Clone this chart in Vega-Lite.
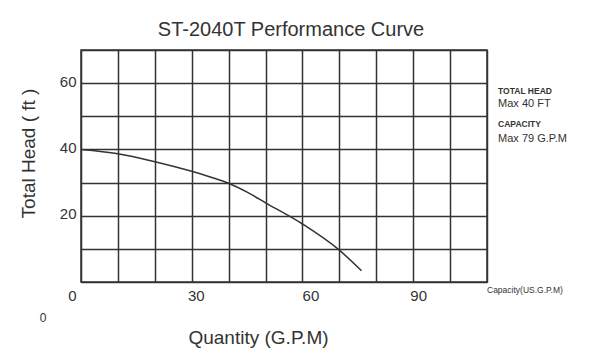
{
  "$schema": "https://vega.github.io/schema/vega-lite/v6.json",
  "width": 406,
  "height": 232,
  "autosize": {"type": "none"},
  "padding": {"left": 81, "top": 50, "right": 103, "bottom": 73},
  "background": "white",
  "config": {
    "font": "Liberation Sans",
    "view": {"stroke": "#333333", "strokeWidth": 1.5}
  },
  "title": {
    "text": "ST-2040T Performance Curve",
    "fontSize": 20,
    "fontWeight": "normal",
    "color": "#333333",
    "anchor": "middle",
    "dx": 7,
    "offset": 12,
    "dy": 11
  },
  "datasets": {
    "curve": [
      {"gpm": 0, "head": 40},
      {"gpm": 10, "head": 38.7},
      {"gpm": 20, "head": 36.3},
      {"gpm": 30, "head": 33.4},
      {"gpm": 35, "head": 31.7},
      {"gpm": 40, "head": 29.8},
      {"gpm": 45, "head": 27.1},
      {"gpm": 50, "head": 23.9},
      {"gpm": 60, "head": 17.5},
      {"gpm": 70, "head": 9.6},
      {"gpm": 76, "head": 3.4}
    ],
    "notes": [
      {"gpm": 113, "head": 57.6, "label": "TOTAL HEAD", "kind": "heading"},
      {"gpm": 113, "head": 47.7, "label": "CAPACITY", "kind": "heading"},
      {"gpm": 113, "head": 53.7, "label": "Max 40 FT", "kind": "value"},
      {"gpm": 113, "head": 43.1, "label": "Max 79 G.P.M", "kind": "value"},
      {"gpm": 110, "head": -2.4, "label": "Capacity(US.G.P.M)", "kind": "unit"},
      {"gpm": -10.3, "head": -10.9, "label": "0", "kind": "stray"}
    ]
  },
  "layer": [
    {
      "data": {"name": "curve"},
      "mark": {"type": "line", "interpolate": "monotone", "color": "#333333", "strokeWidth": 1.5},
      "encoding": {
        "x": {
          "field": "gpm",
          "type": "quantitative",
          "scale": {"domain": [0, 110], "nice": false, "zero": false},
          "axis": {
            "title": "Quantity (G.P.M)",
            "titleFontSize": 19,
            "titleFontWeight": "normal",
            "titleColor": "#333333",
            "titleX": 177,
            "titleY": 55,
            "titleBaseline": "middle",
            "titleAlign": "center",
            "values": [0, 10, 20, 30, 40, 50, 60, 70, 80, 90, 100, 110],
            "tickCount": 30,
            "labelExpr": "(datum.value % 30 == 0 && datum.value <= 90) ? datum.label : ''",
            "labelFontSize": 15,
            "labelColor": "#333333",
            "labelPadding": 6,
            "labelFlush": false,
            "labelOverlap": false,
            "labelOffset": {"expr": "datum.value == 0 ? -9 : datum.value == 30 ? 4 : datum.value == 60 ? 8 : 5"},
            "ticks": false,
            "domain": false,
            "grid": true,
            "gridColor": "#333333",
            "gridOpacity": 1,
            "gridWidth": 1.5
          }
        },
        "y": {
          "field": "head",
          "type": "quantitative",
          "scale": {"domain": [0, 70], "nice": false, "zero": false},
          "axis": {
            "title": "Total Head ( ft )",
            "titleFontSize": 19,
            "titleFontWeight": "normal",
            "titleColor": "#333333",
            "titleX": -53,
            "titleY": 103,
            "titleAngle": -90,
            "titleBaseline": "middle",
            "titleAlign": "center",
            "values": [0, 10, 20, 30, 40, 50, 60, 70],
            "tickCount": 30,
            "labelExpr": "(datum.value == 20 || datum.value == 40 || datum.value == 60) ? datum.label : ''",
            "labelFontSize": 15,
            "labelColor": "#333333",
            "labelPadding": 5,
            "labelFlush": false,
            "labelOverlap": false,
            "labelOffset": -2,
            "ticks": false,
            "domain": false,
            "grid": true,
            "gridColor": "#333333",
            "gridOpacity": 1,
            "gridWidth": 1.5
          }
        }
      }
    },
    {
      "data": {"name": "notes"},
      "transform": [{"filter": "datum.kind == 'heading'"}],
      "mark": {"type": "text", "align": "left", "baseline": "middle", "fontSize": 8.5, "fontWeight": "bold", "color": "#333333"},
      "encoding": {
        "x": {"field": "gpm", "type": "quantitative"},
        "y": {"field": "head", "type": "quantitative"},
        "text": {"field": "label"}
      }
    },
    {
      "data": {"name": "notes"},
      "transform": [{"filter": "datum.kind == 'value'"}],
      "mark": {"type": "text", "align": "left", "baseline": "middle", "fontSize": 11, "color": "#333333"},
      "encoding": {
        "x": {"field": "gpm", "type": "quantitative"},
        "y": {"field": "head", "type": "quantitative"},
        "text": {"field": "label"}
      }
    },
    {
      "data": {"name": "notes"},
      "transform": [{"filter": "datum.kind == 'unit'"}],
      "mark": {"type": "text", "align": "left", "baseline": "middle", "fontSize": 8.5, "color": "#333333"},
      "encoding": {
        "x": {"field": "gpm", "type": "quantitative"},
        "y": {"field": "head", "type": "quantitative"},
        "text": {"field": "label"}
      }
    },
    {
      "data": {"name": "notes"},
      "transform": [{"filter": "datum.kind == 'stray'"}],
      "mark": {"type": "text", "align": "center", "baseline": "middle", "fontSize": 12, "color": "#333333"},
      "encoding": {
        "x": {"field": "gpm", "type": "quantitative"},
        "y": {"field": "head", "type": "quantitative"},
        "text": {"field": "label"}
      }
    }
  ]
}
